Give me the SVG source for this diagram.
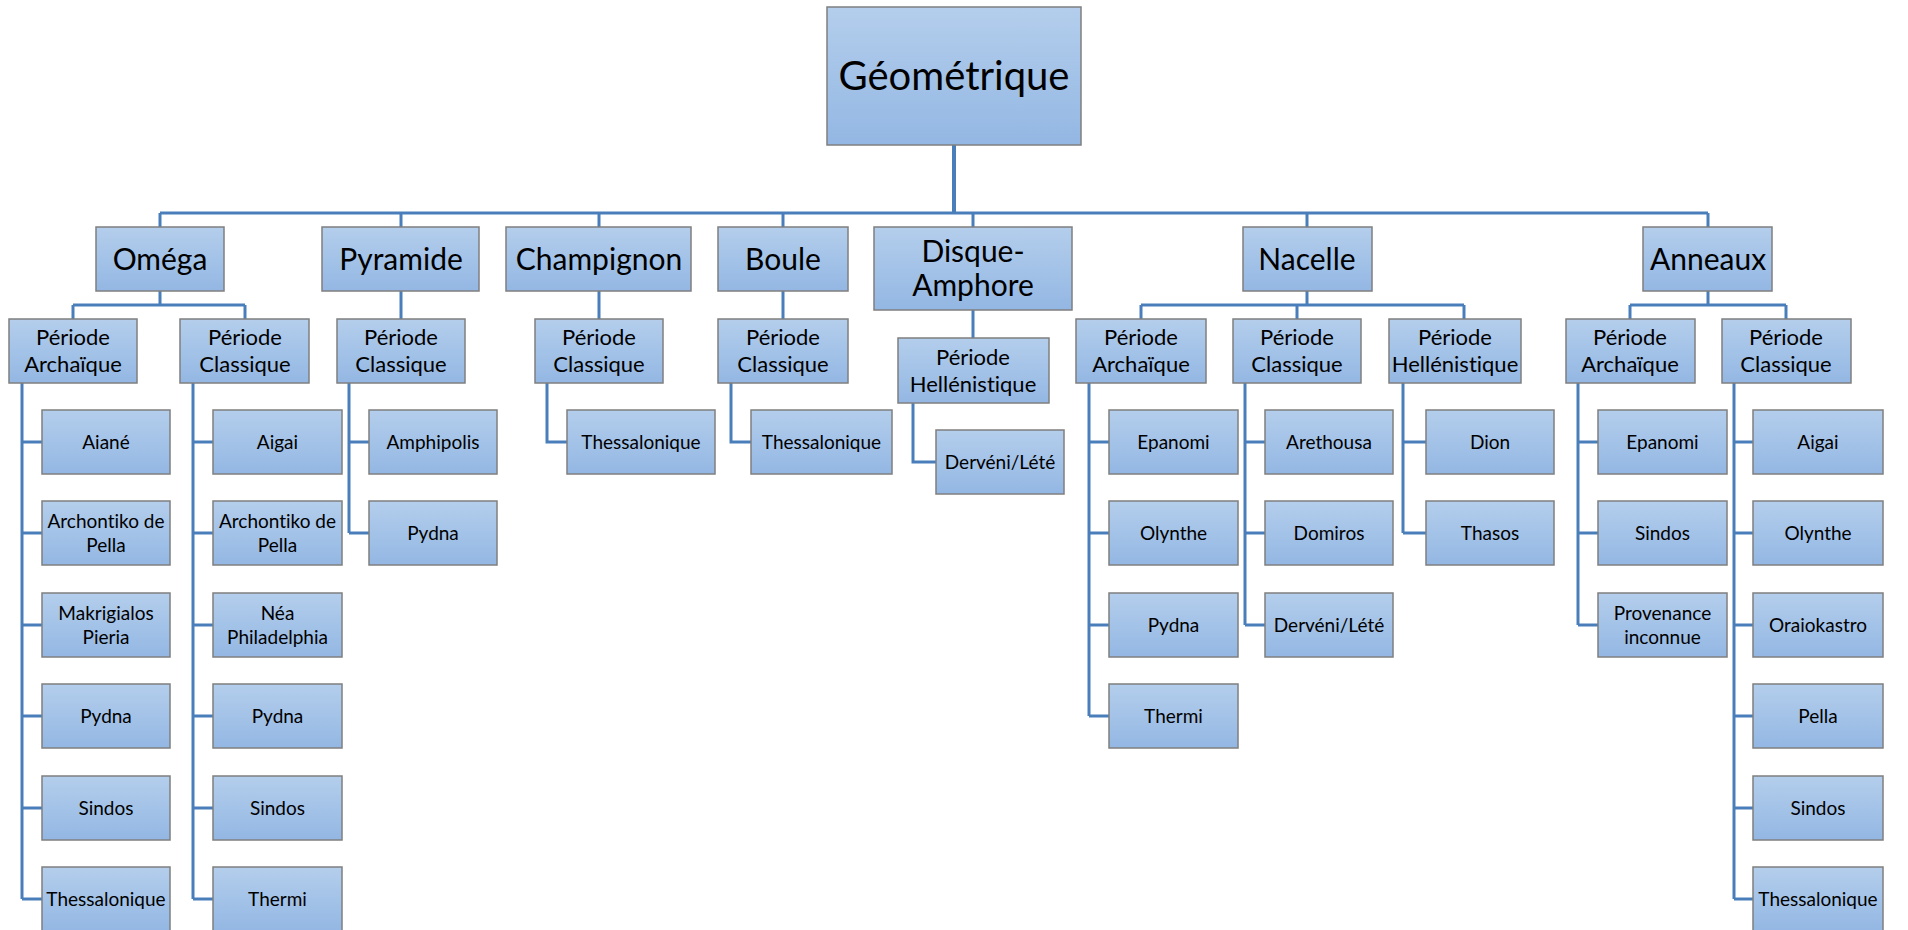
<svg xmlns="http://www.w3.org/2000/svg" width="1908" height="930" viewBox="0 0 1908 930">
<defs>
<linearGradient id="g" x1="0" y1="0" x2="0" y2="1">
<stop offset="0" stop-color="#b4ceec"/>
<stop offset="1" stop-color="#93b7e3"/>
</linearGradient>
<style>
rect{fill:url(#g);stroke:#7f7f7f;stroke-width:1.5}
text{font-family:Lato,"Open Sans","Liberation Sans",sans-serif;fill:#000;text-anchor:middle;font-variant-ligatures:none;font-feature-settings:"liga" 0}
.r{font-size:40px}
.l2{font-size:30px}
.p{font-size:22px}
.f{font-size:19px}
#connectors path{fill:none;stroke:#4a7ebb;stroke-width:3}
</style>
</defs>
<rect x="0" y="0" width="1908" height="930" style="fill:#fff;stroke:none"/>
<g id="connectors">
<path d="M954,145V213" style="stroke-width:4"/>
<path d="M160,213H1708M160,213V227M401,213V227M599,213V227M783,213V227M973,213V227M1307,213V227M1708,213V227"/>
<path d="M160,291V305M73,305H245M73,305V319M245,305V319"/>
<path d="M401,291V319M599,291V319M783,291V319M973,310V338"/>
<path d="M1307,291V305M1141,305H1464M1141,305V319M1297,305V319M1464,305V319"/>
<path d="M1708,291V305M1630,305H1786M1630,305V319M1786,305V319"/>
<path d="M22,383V899M22,442H42M22,533H42M22,625H42M22,716H42M22,808H42M22,899H42"/>
<path d="M193,383V899M193,442H213M193,533H213M193,625H213M193,716H213M193,808H213M193,899H213"/>
<path d="M349,383V533M349,442H369M349,533H369"/>
<path d="M547,383V442H567"/>
<path d="M731,383V442H751"/>
<path d="M913,403V462H936"/>
<path d="M1089,383V716M1089,442H1109M1089,533H1109M1089,625H1109M1089,716H1109"/>
<path d="M1245,383V625M1245,442H1265M1245,533H1265M1245,625H1265"/>
<path d="M1403,383V533M1403,442H1426M1403,533H1426"/>
<path d="M1578,383V625M1578,442H1598M1578,533H1598M1578,625H1598"/>
<path d="M1734,383V899M1734,442H1753M1734,533H1753M1734,625H1753M1734,716H1753M1734,808H1753M1734,899H1753"/>
</g>
<g id="root"><rect x="827" y="7" width="254" height="138"/><text class="r" x="954" y="90">Géométrique</text></g>
<g id="omega"><rect x="96" y="227" width="128" height="64"/><text class="l2" x="160" y="269.5">Oméga</text></g>
<g id="pyramide"><rect x="322" y="227" width="157" height="64"/><text class="l2" x="401" y="269.5">Pyramide</text></g>
<g id="champignon"><rect x="506" y="227" width="185" height="64"/><text class="l2" x="599" y="269.5">Champignon</text></g>
<g id="boule"><rect x="718" y="227" width="130" height="64"/><text class="l2" x="783" y="269.5">Boule</text></g>
<g id="disque"><rect x="874" y="227" width="198" height="83"/><text class="l2" x="973" y="262">Disque-</text><text class="l2" x="973" y="296">Amphore</text></g>
<g id="nacelle"><rect x="1243" y="227" width="129" height="64"/><text class="l2" x="1307" y="269.5">Nacelle</text></g>
<g id="anneaux"><rect x="1643" y="227" width="129" height="64"/><text class="l2" x="1708" y="269.5">Anneaux</text></g>
<g id="omega-arch"><rect x="9" y="319" width="128" height="64"/><text class="p" x="73" y="345">Période</text><text class="p" x="73" y="372">Archaïque</text></g>
<g id="omega-class"><rect x="180" y="319" width="129" height="64"/><text class="p" x="245" y="345">Période</text><text class="p" x="245" y="372">Classique</text></g>
<g id="pyr-class"><rect x="337" y="319" width="128" height="64"/><text class="p" x="401" y="345">Période</text><text class="p" x="401" y="372">Classique</text></g>
<g id="champ-class"><rect x="535" y="319" width="128" height="64"/><text class="p" x="599" y="345">Période</text><text class="p" x="599" y="372">Classique</text></g>
<g id="boule-class"><rect x="718" y="319" width="130" height="64"/><text class="p" x="783" y="345">Période</text><text class="p" x="783" y="372">Classique</text></g>
<g id="disque-hell"><rect x="898" y="338" width="151" height="65"/><text class="p" x="973" y="364.5">Période</text><text class="p" x="973" y="391.5">Hellénistique</text></g>
<g id="nac-arch"><rect x="1076" y="319" width="130" height="64"/><text class="p" x="1141" y="345">Période</text><text class="p" x="1141" y="372">Archaïque</text></g>
<g id="nac-class"><rect x="1233" y="319" width="128" height="64"/><text class="p" x="1297" y="345">Période</text><text class="p" x="1297" y="372">Classique</text></g>
<g id="nac-hell"><rect x="1389" y="319" width="132" height="64"/><text class="p" x="1455" y="345">Période</text><text class="p" x="1455" y="372">Hellénistique</text></g>
<g id="ann-arch"><rect x="1566" y="319" width="129" height="64"/><text class="p" x="1630" y="345">Période</text><text class="p" x="1630" y="372">Archaïque</text></g>
<g id="ann-class"><rect x="1722" y="319" width="129" height="64"/><text class="p" x="1786" y="345">Période</text><text class="p" x="1786" y="372">Classique</text></g>
<g id="oa1"><rect x="42" y="410" width="128" height="64"/><text class="f" x="106" y="448.6">Aiané</text></g>
<g id="oa2"><rect x="42" y="501" width="128" height="64"/><text class="f" x="106" y="527.6">Archontiko de</text><text class="f" x="106" y="551.6">Pella</text></g>
<g id="oa3"><rect x="42" y="593" width="128" height="64"/><text class="f" x="106" y="619.6">Makrigialos</text><text class="f" x="106" y="643.6">Pieria</text></g>
<g id="oa4"><rect x="42" y="684" width="128" height="64"/><text class="f" x="106" y="722.6">Pydna</text></g>
<g id="oa5"><rect x="42" y="776" width="128" height="64"/><text class="f" x="106" y="814.6">Sindos</text></g>
<g id="oa6"><rect x="42" y="867" width="128" height="64"/><text class="f" x="106" y="905.6">Thessalonique</text></g>
<g id="oc1"><rect x="213" y="410" width="129" height="64"/><text class="f" x="277.5" y="448.6">Aigai</text></g>
<g id="oc2"><rect x="213" y="501" width="129" height="64"/><text class="f" x="277.5" y="527.6">Archontiko de</text><text class="f" x="277.5" y="551.6">Pella</text></g>
<g id="oc3"><rect x="213" y="593" width="129" height="64"/><text class="f" x="277.5" y="619.6">Néa</text><text class="f" x="277.5" y="643.6">Philadelphia</text></g>
<g id="oc4"><rect x="213" y="684" width="129" height="64"/><text class="f" x="277.5" y="722.6">Pydna</text></g>
<g id="oc5"><rect x="213" y="776" width="129" height="64"/><text class="f" x="277.5" y="814.6">Sindos</text></g>
<g id="oc6"><rect x="213" y="867" width="129" height="64"/><text class="f" x="277.5" y="905.6">Thermi</text></g>
<g id="py1"><rect x="369" y="410" width="128" height="64"/><text class="f" x="433" y="448.6">Amphipolis</text></g>
<g id="py2"><rect x="369" y="501" width="128" height="64"/><text class="f" x="433" y="539.6">Pydna</text></g>
<g id="ch1"><rect x="567" y="410" width="148" height="64"/><text class="f" x="641" y="448.6">Thessalonique</text></g>
<g id="bo1"><rect x="751" y="410" width="141" height="64"/><text class="f" x="821.5" y="448.6">Thessalonique</text></g>
<g id="di1"><rect x="936" y="430" width="128" height="64"/><text class="f" x="1000" y="468.6">Dervéni/Lété</text></g>
<g id="na1"><rect x="1109" y="410" width="129" height="64"/><text class="f" x="1173.5" y="448.6">Epanomi</text></g>
<g id="na2"><rect x="1109" y="501" width="129" height="64"/><text class="f" x="1173.5" y="539.6">Olynthe</text></g>
<g id="na3"><rect x="1109" y="593" width="129" height="64"/><text class="f" x="1173.5" y="631.6">Pydna</text></g>
<g id="na4"><rect x="1109" y="684" width="129" height="64"/><text class="f" x="1173.5" y="722.6">Thermi</text></g>
<g id="nc1"><rect x="1265" y="410" width="128" height="64"/><text class="f" x="1329" y="448.6">Arethousa</text></g>
<g id="nc2"><rect x="1265" y="501" width="128" height="64"/><text class="f" x="1329" y="539.6">Domiros</text></g>
<g id="nc3"><rect x="1265" y="593" width="128" height="64"/><text class="f" x="1329" y="631.6">Dervéni/Lété</text></g>
<g id="nh1"><rect x="1426" y="410" width="128" height="64"/><text class="f" x="1490" y="448.6">Dion</text></g>
<g id="nh2"><rect x="1426" y="501" width="128" height="64"/><text class="f" x="1490" y="539.6">Thasos</text></g>
<g id="aa1"><rect x="1598" y="410" width="129" height="64"/><text class="f" x="1662.5" y="448.6">Epanomi</text></g>
<g id="aa2"><rect x="1598" y="501" width="129" height="64"/><text class="f" x="1662.5" y="539.6">Sindos</text></g>
<g id="aa3"><rect x="1598" y="593" width="129" height="64"/><text class="f" x="1662.5" y="619.6">Provenance</text><text class="f" x="1662.5" y="643.6">inconnue</text></g>
<g id="ac1"><rect x="1753" y="410" width="130" height="64"/><text class="f" x="1818" y="448.6">Aigai</text></g>
<g id="ac2"><rect x="1753" y="501" width="130" height="64"/><text class="f" x="1818" y="539.6">Olynthe</text></g>
<g id="ac3"><rect x="1753" y="593" width="130" height="64"/><text class="f" x="1818" y="631.6">Oraiokastro</text></g>
<g id="ac4"><rect x="1753" y="684" width="130" height="64"/><text class="f" x="1818" y="722.6">Pella</text></g>
<g id="ac5"><rect x="1753" y="776" width="130" height="64"/><text class="f" x="1818" y="814.6">Sindos</text></g>
<g id="ac6"><rect x="1753" y="867" width="130" height="64"/><text class="f" x="1818" y="905.6">Thessalonique</text></g>
</svg>
